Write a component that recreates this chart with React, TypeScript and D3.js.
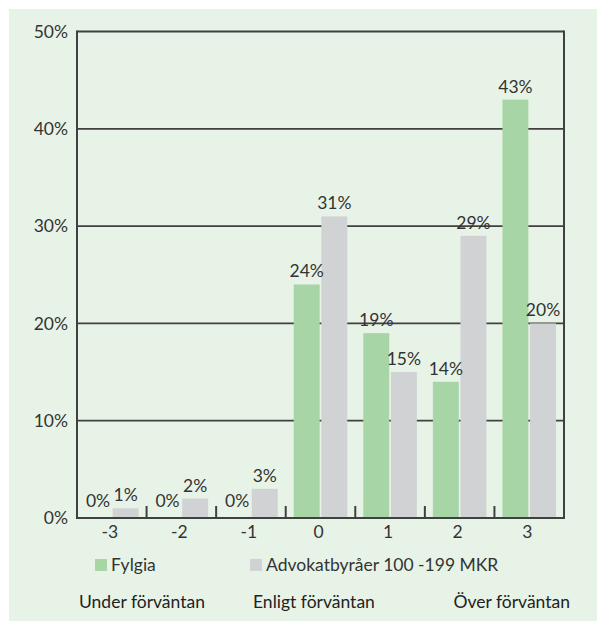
import React, { useEffect, useRef } from "react";
import * as d3 from "d3";

const categories = ["-3", "-2", "-1", "0", "1", "2", "3"];
const seriesNames = ["Fylgia", "Advokatbyråer 100 -199 MKR"];
const fylgia = [0, 0, 0, 24, 19, 14, 43];
const advokat = [1, 2, 3, 31, 15, 29, 20];
const yTicks = [0, 10, 20, 30, 40, 50];
const bottomLabels = ["Under förväntan", "Enligt förväntan", "Över förväntan"];

const colors = ["#a8d5a6", "#d1d2d4"];
const lineColor = "#404040";
const textColor = "#333333";
const font = "Lato, 'Noto Sans', sans-serif";
const fs = 17.5;

const App = () => {
  const svgRef = useRef<SVGSVGElement>(null);

  useEffect(() => {
    const width = 597;
    const height = 621;
    const margin = { top: 31.5, right: 33, bottom: 103, left: 77 };
    const svg = d3.select(svgRef.current);
    svg.selectAll("*").remove();

    svg.attr("width", width).attr("height", height).style("font-family", font);

    // background panel
    svg.append("rect")
      .attr("x", 9).attr("y", 9)
      .attr("width", width - 9).attr("height", height - 9)
      .attr("fill", "#e8f3e8");

    const x = d3.scaleBand<string>()
      .domain(categories)
      .range([margin.left, width - margin.right])
      .padding(0);
    const bw = x.bandwidth();
    const xs = d3.scaleBand<string>()
      .domain(seriesNames)
      .range([8, bw - 8])
      .paddingInner(0.06);
    const y = d3.scaleLinear().domain([0, 50]).range([height - margin.bottom, margin.top]);

    const series = [fylgia, advokat];

    // gridlines
    svg.append("g")
      .selectAll("line")
      .data(yTicks.slice(1))
      .join("line")
      .attr("x1", margin.left).attr("x2", width - margin.right)
      .attr("y1", (d) => y(d)).attr("y2", (d) => y(d))
      .attr("stroke", lineColor).attr("stroke-width", 1.8);

    // bars
    series.forEach((vals, si) => {
      svg.append("g")
        .selectAll("rect")
        .data(vals)
        .join("rect")
        .attr("x", (_, i) => x(categories[i])! + xs(seriesNames[si])!)
        .attr("width", xs.bandwidth())
        .attr("y", (d) => y(d))
        .attr("height", (d) => y(0) - y(d))
        .attr("fill", colors[si]);
    });

    // axes frame
    const frame = svg.append("g").attr("stroke", lineColor).attr("stroke-width", 2).attr("fill", "none");
    frame.append("line")
      .attr("x1", margin.left).attr("x2", margin.left)
      .attr("y1", y(50) - 1).attr("y2", y(0) + 1);
    frame.append("line")
      .attr("x1", width - margin.right).attr("x2", width - margin.right)
      .attr("y1", y(50) - 1).attr("y2", y(0) + 1);
    frame.append("line")
      .attr("x1", margin.left).attr("x2", width - margin.right)
      .attr("y1", y(0)).attr("y2", y(0));
    frame.selectAll("line.tick")
      .data(categories.slice(1))
      .join("line")
      .attr("class", "tick")
      .attr("x1", (d) => x(d)!).attr("x2", (d) => x(d)!)
      .attr("y1", y(0)).attr("y2", y(0) - 12);

    // y labels
    svg.append("g")
      .selectAll("text")
      .data(yTicks)
      .join("text")
      .attr("x", 68)
      .attr("y", (d) => y(d))
      .attr("dy", "0.36em")
      .attr("text-anchor", "end")
      .attr("font-size", fs)
      .attr("fill", textColor)
      .text((d) => `${d}%`);

    // x labels
    svg.append("g")
      .selectAll("text")
      .data(categories)
      .join("text")
      .attr("x", (d) => x(d)! + bw / 2 - 2)
      .attr("y", y(0) + 20)
      .attr("text-anchor", "middle")
      .attr("font-size", fs)
      .attr("fill", textColor)
      .text((d) => d);

    // value labels
    series.forEach((vals, si) => {
      svg.append("g")
        .selectAll("text")
        .data(vals)
        .join("text")
        .attr("x", (_, i) => x(categories[i])! + xs(seriesNames[si])! + xs.bandwidth() / 2)
        .attr("y", (d) => y(d) - (d === 0 ? 11 : 7))
        .attr("text-anchor", "middle")
        .attr("font-size", fs)
        .attr("fill", textColor)
        .text((d) => `${d}%`);
    });

    // legend
    const legendX = [95, 250];
    const legend = svg.append("g")
      .selectAll("g")
      .data(seriesNames)
      .join("g")
      .attr("transform", (_, i) => `translate(${legendX[i]},559)`);
    legend.append("rect")
      .attr("width", 12).attr("height", 12)
      .attr("fill", (_, i) => colors[i]);
    legend.append("text")
      .attr("x", 16).attr("y", 12)
      .attr("font-size", fs)
      .attr("fill", textColor)
      .text((d) => d);

    // bottom scale labels
    const bottomX = [79, 253, 570];
    const anchors = ["start", "start", "end"];
    svg.append("g")
      .selectAll("text")
      .data(bottomLabels)
      .join("text")
      .attr("x", (_, i) => bottomX[i])
      .attr("y", 608)
      .attr("text-anchor", (_, i) => anchors[i])
      .attr("font-size", fs)
      .attr("fill", "#222")
      .text((d) => d);
  }, []);

  return <svg ref={svgRef} style={{ position: "absolute", left: 0, top: 0 }}></svg>;
};

export default App;
